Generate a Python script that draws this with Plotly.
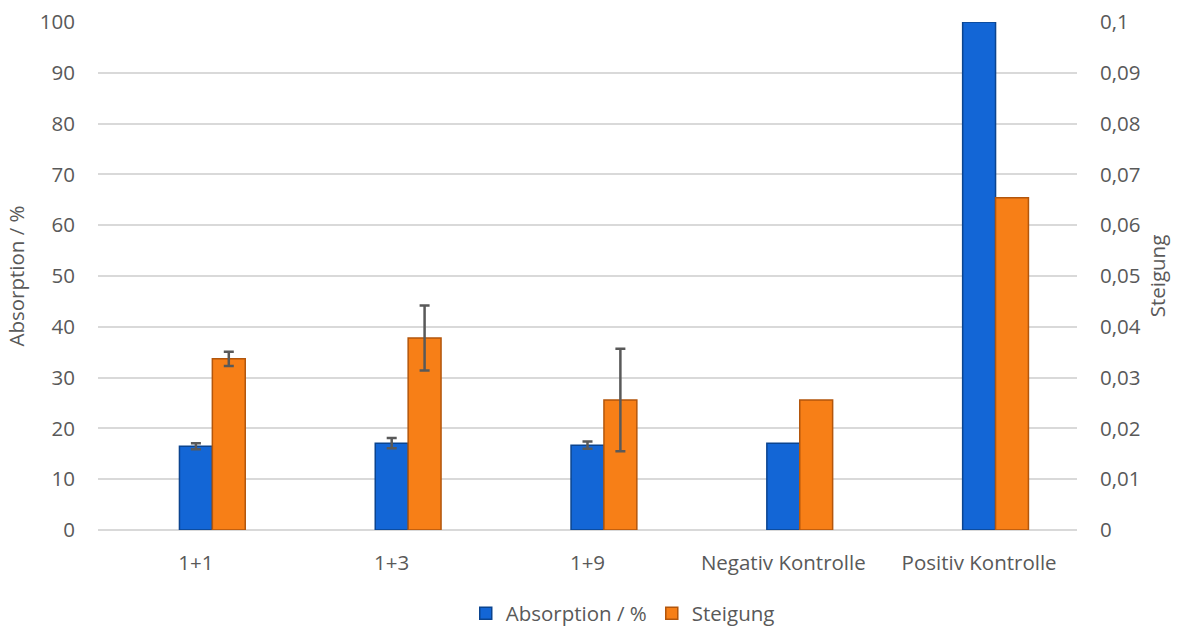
import plotly.graph_objects as go

# Data
categories = ["1+1", "1+3", "1+9", "Negativ Kontrolle", "Positiv Kontrolle"]
absorption = [16.5, 17.1, 16.7, 17.1, 100.0]
steigung = [0.0337, 0.0378, 0.0256, 0.0256, 0.0654]
# Standard deviations exist only for the three dilutions (first three categories)
absorption_err = [0.6, 1.0, 0.7]
steigung_err = [0.0014, 0.0064, 0.0101]

left_ticks = list(range(0, 101, 10))
right_ticks = [i / 100 for i in range(0, 11)]

font_family = "'Open Sans', sans-serif"
text_color = "#595959"
grid_color = "#d9d9d9"
font_size = 20.5

bar_width = 0.168

fig = go.Figure()

# Primary series: centred on each category
fig.add_trace(go.Bar(
    x=categories,
    y=absorption,
    name="Absorption / %",
    yaxis="y",
    width=bar_width,
    offset=-bar_width / 2,
    marker=dict(color="#1366d6", line=dict(color="#0b448f", width=1.5)),
    error_y=dict(type="data", array=absorption_err,
                 visible=True, color="#595959", thickness=2.5, width=5),
))

# Secondary series: directly to the right of the primary bar
fig.add_trace(go.Bar(
    x=categories,
    y=steigung,
    name="Steigung",
    yaxis="y2",
    width=bar_width,
    offset=bar_width / 2,
    marker=dict(color="#f77f17", line=dict(color="#b3560c", width=1.5)),
    error_y=dict(type="data", array=steigung_err,
                 visible=True, color="#595959", thickness=2.5, width=5),
))

fig.update_layout(
    width=1183,
    height=628,
    margin=dict(l=98, r=106, t=22, b=98, autoexpand=False),
    paper_bgcolor="white",
    plot_bgcolor="white",
    separators=",.",
    barmode="overlay",
    font=dict(family=font_family, size=font_size, color=text_color),
    showlegend=True,
    legend=dict(
        orientation="h",
        x=0.536, xanchor="center",
        y=-0.125, yanchor="top",
        font=dict(size=font_size, color=text_color),
        itemwidth=30,
    ),
    xaxis=dict(
        showgrid=False,
        showline=False,
        ticks="",
        automargin=False,
        ticklabelstandoff=18,
        tickfont=dict(size=font_size, color=text_color),
    ),
    yaxis=dict(
        range=[0, 100],
        tickvals=left_ticks,
        showgrid=True,
        gridcolor=grid_color,
        gridwidth=1.5,
        zeroline=True,
        zerolinecolor=grid_color,
        zerolinewidth=1.5,
        showline=False,
        ticks="",
        automargin=False,
        ticklabelstandoff=22,
        tickfont=dict(size=font_size, color=text_color),
        title=dict(text="Absorption / %", font=dict(size=font_size, color=text_color), standoff=9),
    ),
    yaxis2=dict(
        range=[0, 0.1],
        tickvals=right_ticks,
        overlaying="y",
        side="right",
        showgrid=False,
        zeroline=False,
        showline=False,
        ticks="",
        automargin=False,
        ticklabelstandoff=22,
        tickfont=dict(size=font_size, color=text_color),
        title=dict(text="Steigung", font=dict(size=font_size, color=text_color), standoff=10),
    ),
)

fig.write_html("out.html")
